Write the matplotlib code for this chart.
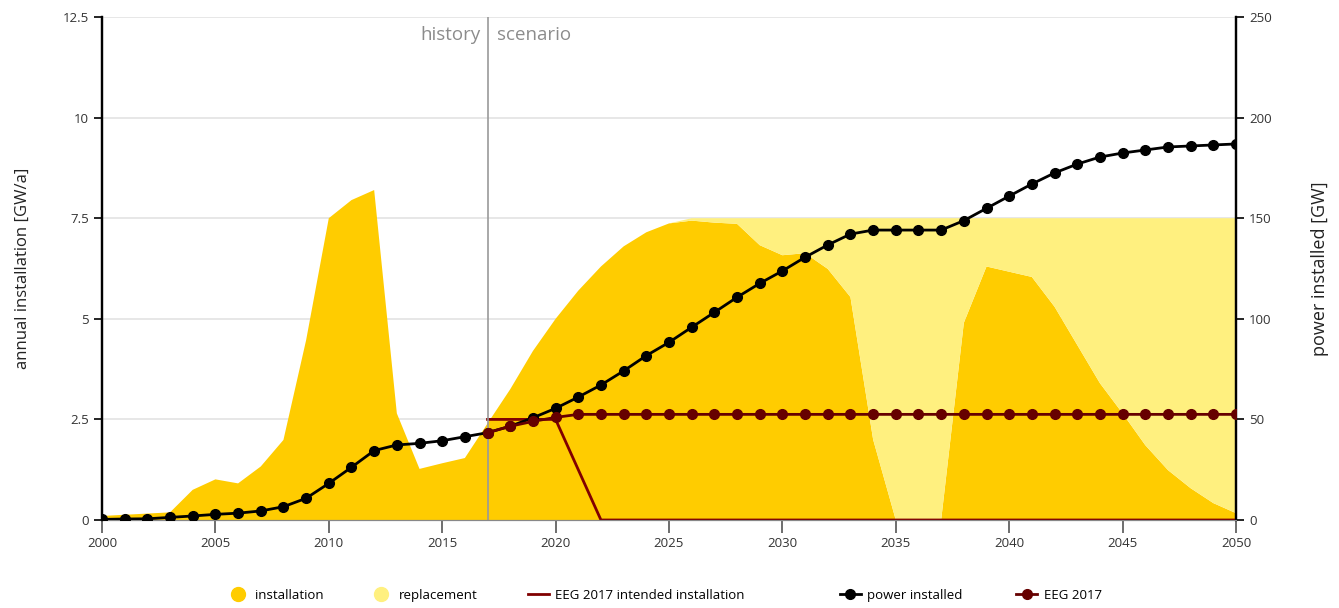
import matplotlib
matplotlib.use("Agg")
import matplotlib.pyplot as plt
from matplotlib.lines import Line2D

plt.rcParams['font.family'] = ['Open Sans', 'DejaVu Sans']

years = list(range(2000, 2051))

# annual installation [GW/a]
installation = [0.1, 0.13, 0.16, 0.19, 0.75, 1.01, 0.91, 1.33, 1.99, 4.47,
                7.5, 7.95, 8.2, 2.65, 1.27, 1.41, 1.54, 2.4, 3.25, 4.2,
                5.0, 5.7, 6.3, 6.8, 7.15, 7.37, 7.44, 7.39, 7.36, 6.83,
                6.58, 6.63, 6.24, 5.54, 2.0, 0.0, 0.0, 0.0, 4.9, 6.3,
                6.17, 6.04, 5.3, 4.35, 3.4, 2.65, 1.86, 1.24, 0.79, 0.42,
                0.17]
# replacement [GW/a], stacked on installation
replacement = [0.0] * 26 + [0.06, 0.11, 0.14, 0.67,
               0.92, 0.87, 1.26, 1.96, 5.5, 7.5, 7.5, 7.5, 2.6, 1.2,
               1.33, 1.46, 2.2, 3.15, 4.1, 4.85, 5.64, 6.26, 6.71, 7.08,
               7.33]

# EEG 2017 intended installation [GW/a]
eeg_years = list(range(2017, 2051))
eeg_intended = [2.5, 2.5, 2.5, 2.5, 1.25] + [0.0] * 29

# power installed [GW]
power = [0.3, 0.5, 0.6, 1.3, 2.0, 2.8, 3.4, 4.5, 6.6, 10.8,
         18.2, 26.2, 34.5, 37.3, 38.1, 39.4, 41.4, 43.4, 46.6, 50.8,
         55.5, 61.1, 67.1, 74.1, 81.7, 88.3, 95.8, 103.2, 110.7, 117.6,
         123.8, 130.6, 136.7, 142.1, 144.1, 144.1, 144.1, 144.1, 148.8, 154.9,
         161.0, 167.0, 172.5, 176.9, 180.4, 182.4, 183.9, 185.4, 185.9, 186.4,
         186.9]
# EEG 2017 power [GW]
eeg_power = [43.4, 46.6, 49.0, 51.0] + [52.5] * 30

c_inst = "#ffcc00"
c_repl = "#fff07f"
c_eeg_line = "#800000"
c_eeg = "#660000"

fig = plt.figure(figsize=(13.39, 6.08), dpi=100)
ax = fig.add_axes([102 / 1339, 1 - 520 / 608, 1134 / 1339, 503 / 608])
ax2 = ax.twinx()

ax.stackplot(years, installation, replacement, colors=[c_inst, c_repl],
             linewidth=0, zorder=2)
ax.plot(eeg_years, eeg_intended, color=c_eeg_line, lw=2, zorder=3)
ax.axvline(2017, color="#999999", lw=1.2, zorder=4)
ax.text(2016.7, 12.05, "history", ha="right", va="center", fontsize=13.5,
        color="#8c8c8c")
ax.text(2017.4, 12.05, "scenario", ha="left", va="center", fontsize=13.5,
        color="#8c8c8c")

ax2.plot(years, power, color="black", lw=2, marker="o", ms=7, zorder=5)
ax2.plot(eeg_years, eeg_power, color=c_eeg, lw=2, marker="o", ms=7, zorder=6)

ax.set_xlim(2000, 2050)
ax.set_ylim(0, 12.5)
ax2.set_ylim(0, 250)
ax.set_xticks(range(2000, 2051, 5))
ax.set_yticks([0, 2.5, 5, 7.5, 10, 12.5])
ax.set_yticklabels(["0", "2.5", "5", "7.5", "10", "12.5"])
ax2.set_yticks([0, 50, 100, 150, 200, 250])
ax.grid(axis="y", color="#e3e3e3", lw=1.2, zorder=0)
ax.set_axisbelow(True)

for a in (ax, ax2):
    a.spines["top"].set_visible(False)
    a.spines["left"].set_linewidth(1.6)
    a.spines["right"].set_linewidth(1.6)
    a.spines["bottom"].set_color("#888888")
    a.tick_params(labelsize=9.5, labelcolor="#333333")
ax.tick_params(axis="y", length=6, width=1.2, color="black")
ax2.tick_params(axis="y", length=6, width=1.2, color="black")
ax.tick_params(axis="x", length=9, width=1.2, color="#555555")

ax.set_ylabel("annual installation [GW/a]", fontsize=12, color="#222222",
              labelpad=23)
ax2.set_ylabel("power installed [GW]", fontsize=13, color="#222222",
               labelpad=28)

entries = [
    (Line2D([], [], ls="", marker="o", ms=10, color=c_inst), "installation", 0.170),
    (Line2D([], [], ls="", marker="o", ms=10, color=c_repl), "replacement", 0.277),
    (Line2D([], [], ls="-", lw=2, color=c_eeg_line), "EEG 2017 intended installation", 0.394),
    (Line2D([], [], ls="-", lw=2, marker="o", ms=7, color="black"), "power installed", 0.627),
    (Line2D([], [], ls="-", lw=2, marker="o", ms=7, color=c_eeg), "EEG 2017", 0.759),
]
for h, lab, xpos in entries:
    fig.legend([h], [lab], loc="center left", bbox_to_anchor=(xpos, 0.021),
               frameon=False, fontsize=9.5, handlelength=1.6,
               handletextpad=0.5, borderpad=0, borderaxespad=0)

fig.savefig("out.png", dpi=100)
